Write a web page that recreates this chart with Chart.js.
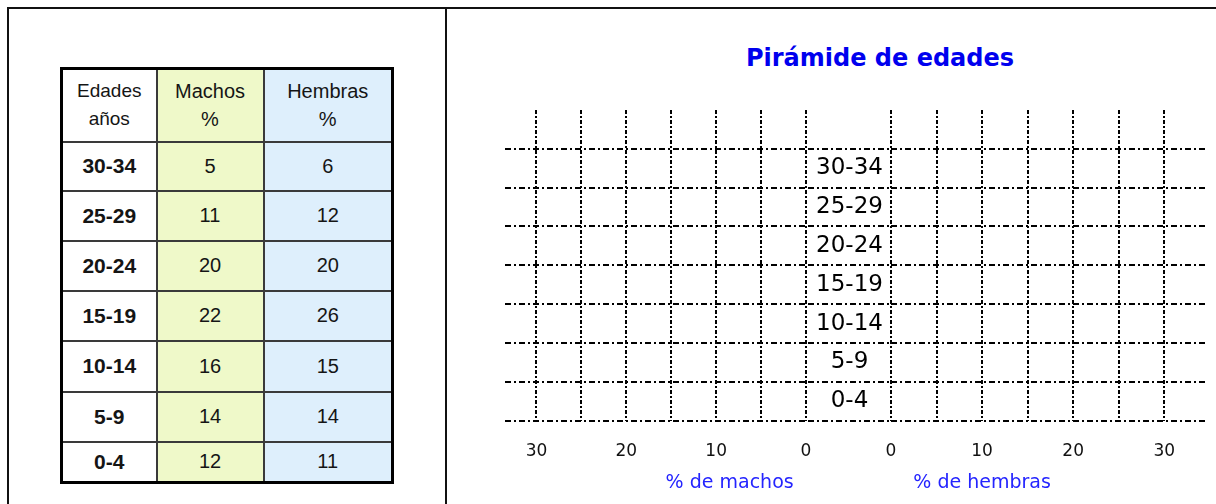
<!DOCTYPE html>
<html lang="es">
<head>
<meta charset="utf-8">
<title>Pirámide de edades</title>
<script src="https://cdn.jsdelivr.net/npm/chart.js@4.4.1/dist/chart.umd.min.js"></script>
<style>
    html, body { margin: 0; padding: 0; background: #fff; }
    #page { position: relative; width: 1216px; height: 504px; overflow: hidden; }

    /* worksheet frame */
    .rule { position: absolute; background: #111; }
    #ruleTop { left: 7px; top: 7px; width: 1209px; height: 2px; }
    #ruleLeft { left: 7px; top: 7px; width: 2px; height: 497px; }
    #ruleMid { left: 445px; top: 7px; width: 2px; height: 497px; }

    /* data table */
    #dataTable {
        position: absolute; left: 60px; top: 67px; width: 331px;
        border-collapse: collapse; border: 3px solid #000;
        font-family: 'Liberation Sans', Arial, sans-serif; color: #151515;
        table-layout: fixed;
    }
    #dataTable th, #dataTable td { border: 2px solid #3a3a3a; text-align: center; padding: 0; }
    #dataTable th { font-weight: normal; font-size: 20px; line-height: 28px; }
    #dataTable th.age { font-size: 19px; }
    #dataTable td { font-size: 20px; }
    #dataTable td.age { font-weight: bold; font-size: 21px; }
    #dataTable .male { background: #eff9c9; }
    #dataTable .female { background: #deeffc; }
    #dataTable .age { background: #fff; }

    #chartTitle {
        position: absolute; left: 700px; top: 44px; width: 360px; text-align: center;
        font: bold 24px 'DejaVu Sans', sans-serif; line-height: 28px; color: #0000ee;
    }
    canvas { position: absolute; }
    #maleChart { left: 498px; top: 100px; }
    #femaleChart { left: 808px; top: 100px; }
</style>
</head>
<body>
<div id="page">
    <div class="rule" id="ruleTop"></div>
    <div class="rule" id="ruleLeft"></div>
    <div class="rule" id="ruleMid"></div>

    <table id="dataTable">
        <colgroup><col style="width:95px"><col style="width:107px"><col style="width:129px"></colgroup>
        <thead>
            <tr style="height:73px">
                <th class="age">Edades<br>años</th>
                <th class="male">Machos<br>%</th>
                <th class="female">Hembras<br>%</th>
            </tr>
        </thead>
        <tbody id="tableBody"></tbody>
    </table>

    <div id="chartTitle">Pirámide de edades</div>
    <canvas id="maleChart" width="320" height="404"></canvas>
    <canvas id="femaleChart" width="408" height="404"></canvas>
</div>

<script>
const ageGroups = ['30-34', '25-29', '20-24', '15-19', '10-14', '5-9', '0-4'];
const malePct = [5, 11, 20, 22, 16, 14, 12];
const femalePct = [6, 12, 20, 26, 15, 14, 11];
const tickLabels = [0, 10, 20, 30];

// Chart configuration
const CONFIG = {
    font: "'DejaVu Sans', sans-serif",
    ink: '#000',
    clear: 'rgba(0,0,0,0)',
    axisBlue: '#2424ff',
    lineWidth: 2,
    hDash: [6, 3, 2, 3],
    vDash: [4, 2, 2, 2],
    gridStep: 5,
    gridMax: 30,
    gapWidth: 83,
    labelDrop: 21,
    rowHeights: [49, 50, 50, 50, 51, 50, 41]
};

document.addEventListener('DOMContentLoaded', function() {
    buildTable();
    buildCharts();
});

// Table
function buildTable() {
    const tbody = document.getElementById('tableBody');
    tbody.innerHTML = ageGroups.map((age, i) => `
        <tr style="height:${CONFIG.rowHeights[i]}px">
            <td class="age">${age}</td>
            <td class="male">${malePct[i]}</td>
            <td class="female">${femalePct[i]}</td>
        </tr>
    `).join('');
}

// Axis title drawn under a chosen value of the x scale
const axisTitlePlugin = {
    id: 'axisTitle',
    afterDraw(chart, args, opts) {
        const ctx = chart.ctx;
        const x = chart.scales.x.getPixelForValue(opts.at);
        ctx.save();
        ctx.font = `${opts.size}px ${CONFIG.font}`;
        ctx.fillStyle = CONFIG.axisBlue;
        ctx.textAlign = 'center';
        ctx.textBaseline = 'middle';
        ctx.fillText(opts.text, x, chart.chartArea.bottom + opts.offset);
        ctx.restore();
    }
};

function hideTopLine(ctx) {
    return ctx.index === 0 ? CONFIG.clear : CONFIG.ink;
}

function xAxis(max, reverse) {
    return {
        type: 'linear',
        min: 0,
        max: max,
        reverse: reverse,
        ticks: {
            stepSize: CONFIG.gridStep,
            includeBounds: false,
            autoSkip: false,
            maxRotation: 0,
            padding: 0,
            color: '#111',
            font: { family: CONFIG.font, size: 17 },
            callback: value => tickLabels.includes(value) ? String(value) : ''
        },
        grid: {
            // invisible tick marks push the labels down without side padding
            drawTicks: true,
            tickLength: CONFIG.labelDrop,
            tickColor: CONFIG.clear,
            lineWidth: CONFIG.lineWidth,
            color: ctx => (ctx.tick && ctx.tick.value <= CONFIG.gridMax) ? CONFIG.ink : CONFIG.clear
        },
        border: { display: false, dash: CONFIG.vDash }
    };
}

function widestLabel(labels, size) {
    const ctx = document.createElement('canvas').getContext('2d');
    ctx.font = `${size}px ${CONFIG.font}`;
    return Math.max(...labels.map(l => ctx.measureText(l).width));
}

function buildCharts() {
    // empty top band: the vertical grid rises above the first age group
    const rows = [''].concat(ageGroups);
    const labelSize = 23;
    const labelPad = CONFIG.gapWidth / 2 - CONFIG.gapWidth - widestLabel(ageGroups, labelSize) / 2;

    // Machos (left half) - blank worksheet grid
    new Chart(document.getElementById('maleChart'), {
        type: 'bar',
        data: { labels: rows, datasets: [{ label: 'Machos', data: [] }] },
        options: {
            indexAxis: 'y',
            responsive: false,
            animation: false,
            layout: { padding: { left: 7, right: 12, top: 10, bottom: 42 } },
            plugins: {
                legend: { display: false },
                tooltip: { enabled: false },
                axisTitle: { text: '% de machos', at: 8.5, size: 19, offset: 62 }
            },
            scales: {
                x: xAxis(33.5, true),
                y: {
                    ticks: { display: false },
                    grid: { drawTicks: false, lineWidth: CONFIG.lineWidth, color: hideTopLine },
                    border: { display: false, dash: CONFIG.hDash },
                    afterFit: scale => { scale.width = 0; }
                }
            }
        },
        plugins: [axisTitlePlugin]
    });

    // Hembras (right half) with the age labels in the centre column
    new Chart(document.getElementById('femaleChart'), {
        type: 'bar',
        data: { labels: rows, datasets: [{ label: 'Hembras', data: [] }] },
        options: {
            indexAxis: 'y',
            responsive: false,
            animation: false,
            layout: { padding: { left: 0, right: 8, top: 10, bottom: 42 } },
            plugins: {
                legend: { display: false },
                tooltip: { enabled: false },
                axisTitle: { text: '% de hembras', at: 10, size: 19, offset: 62 }
            },
            scales: {
                x: xAxis(34.8, false),
                y: {
                    position: 'left',
                    ticks: {
                        autoSkip: false,
                        crossAlign: 'center',
                        padding: labelPad,
                        color: CONFIG.ink,
                        font: { family: CONFIG.font, size: labelSize }
                    },
                    grid: {
                        drawTicks: true,
                        tickLength: CONFIG.gapWidth,
                        tickBorderDash: CONFIG.hDash,
                        lineWidth: CONFIG.lineWidth,
                        color: hideTopLine
                    },
                    border: { display: false, dash: CONFIG.hDash },
                    afterFit: scale => { scale.width = CONFIG.gapWidth; }
                }
            }
        },
        plugins: [axisTitlePlugin]
    });
}
</script>
</body>
</html>
